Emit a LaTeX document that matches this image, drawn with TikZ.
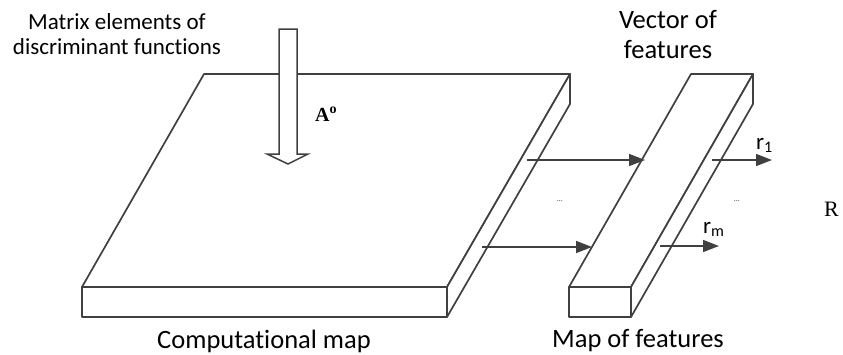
\documentclass[tikz,border=0pt]{standalone}
\usepackage{fontspec}
\setmainfont{Carlito}[RawFeature={-liga;-clig;-calt}]
\newfontfamily\timesfont{Liberation Serif}
\usetikzlibrary{arrows.meta}
\definecolor{edgegray}{RGB}{64, 64, 64}

\begin{document}
\begin{tikzpicture}[
    x=1pt, y=-1pt,
    slab/.style={draw=edgegray, line width=1.7pt, fill=white, line join=round},
    hollow/.style={draw=edgegray, line width=1.5pt, fill=white, line join=miter},
    arrow/.style={draw=edgegray, line width=1.6pt, -{Triangle[length=16pt, width=12pt, fill=edgegray]}},
    note/.style={inner sep=0pt, align=center, font=\fontsize{26.5}{30}\selectfont},
    small/.style={inner sep=0pt, font=\fontsize{23}{25}\selectfont},
    dots/.style={inner sep=0pt, font=\fontsize{8}{8}\selectfont, text=edgegray}
]
    \useasboundingbox (0,0) rectangle (843,354);

    % Computational map
    \draw[slab] (204,74) -- (570,74) -- (447,287) -- (82,287) -- cycle;
    \draw[slab] (82,287) rectangle (447,317);
    \draw[slab] (570,74) -- (570,104) -- (447,317) -- (447,287) -- cycle;

    % Map of features
    \draw[slab] (691,74) -- (753,74) -- (631,287) -- (569,287) -- cycle;
    \draw[slab] (569,287) rectangle (631,317);
    \draw[slab] (753,74) -- (753,104) -- (631,317) -- (631,287) -- cycle;

    % Input arrow
    \draw[hollow] (279,29) -- (297,29) -- (297,154) -- (308,154) -- (288,164)
        -- (267,154) -- (279,154) -- cycle;

    % Arrow ends
    \coordinate (map-top) at (527,160);
    \coordinate (bar-top) at (645,160);
    \coordinate (map-bot) at (482,247);
    \coordinate (bar-bot) at (592,247);
    \coordinate (r1-in) at (712,160);
    \coordinate (r1-out) at (772,160);
    \coordinate (rm-in) at (660,246);
    \coordinate (rm-out) at (719,246);

    % Arrows
    \draw[arrow] (map-top) -- (bar-top);
    \draw[arrow] (map-bot) -- (bar-bot);
    \draw[arrow] (r1-in) -- (r1-out);
    \draw[arrow] (rm-in) -- (rm-out);

    % Labels
    \node[small, align=center] (matrix) at (117,34) {Matrix elements of\\discriminant functions};
    \node[inner sep=0pt, anchor=base west, font=\timesfont\bfseries\fontsize{20}{22}\selectfont] (ao) at (315,121) {A\textsuperscript{o}};
    \node[note] (vector) at (668,35) {Vector of\\features};
    \node[note, anchor=base] (compmap) at (264,348) {Computational map};
    \node[note, anchor=base] (featmap) at (638,347) {Map of features};
    \node[small, anchor=base west] (r1) at (756,149) {r\textsubscript{1}};
    \node[small, anchor=base west] (rm) at (703,233) {r\textsubscript{m}};
    \node[inner sep=0pt, anchor=base west, font=\timesfont\fontsize{22}{24}\selectfont] (rset) at (824,216) {R};
    \node[dots, anchor=base] (dots1) at (560,201) {…};
    \node[dots, anchor=base] (dots2) at (737,201) {…};
\end{tikzpicture}
\end{document}
